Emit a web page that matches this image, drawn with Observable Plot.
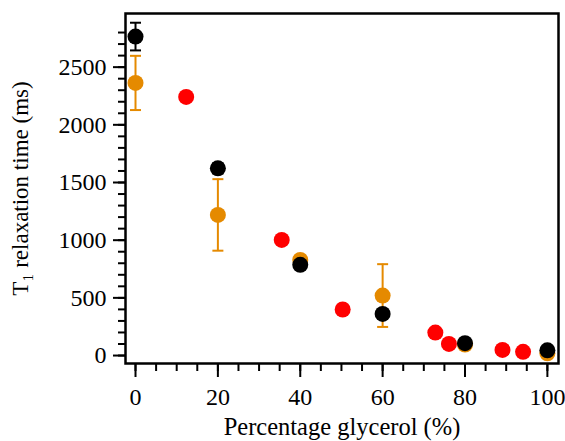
<!DOCTYPE html>
<html>
<head>
<meta charset="utf-8">
<script src="https://cdn.jsdelivr.net/npm/d3@7"></script>
<script src="https://cdn.jsdelivr.net/npm/@observablehq/plot@0.6"></script>
<style>
  html, body { margin: 0; padding: 0; background: #fff; }
  #chart svg { display: block; }
  #chart svg, #chart svg text { font-family: "Liberation Serif", "Times New Roman", "DejaVu Serif", serif !important; }
</style>
</head>
<body>
<div id="chart"></div>
<script>
// Black series
const blackX = [0, 20, 40, 60, 80, 100];
const blackY = [2765, 1623, 786, 361, 107, 45];
const blackErr = [120, 45, 0, 0, 0, 0];
// Orange series
const orangeX = [0, 20, 40, 60, 80, 100];
const orangeY = [2363, 1219, 829, 520, 95, 20];
const orangeErr = [235, 310, 0, 272, 0, 0];
// Red series
const redX = [12.3, 35.5, 50.3, 72.8, 76.1, 89.1, 94.1];
const redY = [2242, 1002, 399, 199, 101, 49, 32];

const xMajor = [0, 20, 40, 60, 80, 100];
const xMinor = d3.range(0, 101, 5);
const yMajor = [0, 500, 1000, 1500, 2000, 2500];
const yMinor = d3.range(0, 2801, 100);

const COLORS = {black: "#000000", orange: "#e58a00", red: "#ff0000"};

const toRows = (xs, ys, es, s) => xs.map((x, i) => ({x, y: ys[i], e: es ? es[i] : 0, s}));
const black = toRows(blackX, blackY, blackErr, "black");
const orange = toRows(orangeX, orangeY, orangeErr, "orange");
const red = toRows(redX, redY, null, "red");

const capSymbol = {
  draw(ctx, size) {
    const h = Math.sqrt(size / Math.PI);
    ctx.moveTo(-h, 0);
    ctx.lineTo(h, 0);
  }
};

function errMarks(rows, color) {
  const withErr = rows.filter(d => d.e > 0);
  return [
    Plot.ruleX(withErr, {x: "x", y1: d => d.y - d.e, y2: d => d.y + d.e, stroke: color, strokeWidth: 2}),
    Plot.dot(withErr, {x: "x", y: d => d.y + d.e, symbol: capSymbol, r: 5.5, stroke: color, strokeWidth: 2, fill: "none"}),
    Plot.dot(withErr, {x: "x", y: d => d.y - d.e, symbol: capSymbol, r: 5.5, stroke: color, strokeWidth: 2, fill: "none"})
  ];
}

const font = "Liberation Serif";
const FS = 24;

const plot = Plot.plot({
  width: 565,
  height: 441,
  marginLeft: 125,
  marginTop: 13,
  marginRight: 7,
  marginBottom: 78,
  style: {fontFamily: font, fontSize: FS + "px", color: "#000", background: "#fff"},
  x: {domain: [-2.43, 102.7]},
  y: {domain: [-69, 2965]},
  marks: [
    Plot.axisY({ticks: yMinor, tickSize: 7, text: null, strokeWidth: 2, label: null}),
    Plot.axisY({ticks: yMajor, tickSize: 12, tickPadding: 7, strokeWidth: 2, fontSize: FS, fontFamily: font,
      tickFormat: d => String(d), label: null}),
    Plot.axisY({ticks: [], fontSize: 23, fontFamily: font,
      label: "T\u2081 relaxation time (ms)", labelAnchor: "center", labelArrow: "none", labelOffset: 114}),
    Plot.axisX({ticks: xMinor, tickSize: 8, text: null, strokeWidth: 2, label: null}),
    Plot.axisX({ticks: xMajor, tickSize: 14, tickPadding: 10, strokeWidth: 2, fontSize: FS, fontFamily: font,
      tickFormat: d => String(d), label: null}),
    Plot.axisX({ticks: [], fontSize: 24.5, fontFamily: font,
      label: "Percentage glycerol (%)", labelAnchor: "center", labelArrow: "none", labelOffset: 71}),
    ...errMarks(orange, COLORS.orange),
    Plot.dot(orange, {x: "x", y: "y", r: 8, fill: COLORS.orange}),
    Plot.dot(red, {x: "x", y: "y", r: 8, fill: COLORS.red}),
    ...errMarks(black, COLORS.black),
    Plot.dot(black, {x: "x", y: "y", r: 8, fill: COLORS.black}),
    Plot.frame({stroke: "#000", strokeWidth: 2.5})
  ]
});
document.getElementById("chart").appendChild(plot);
</script>
</body>
</html>
